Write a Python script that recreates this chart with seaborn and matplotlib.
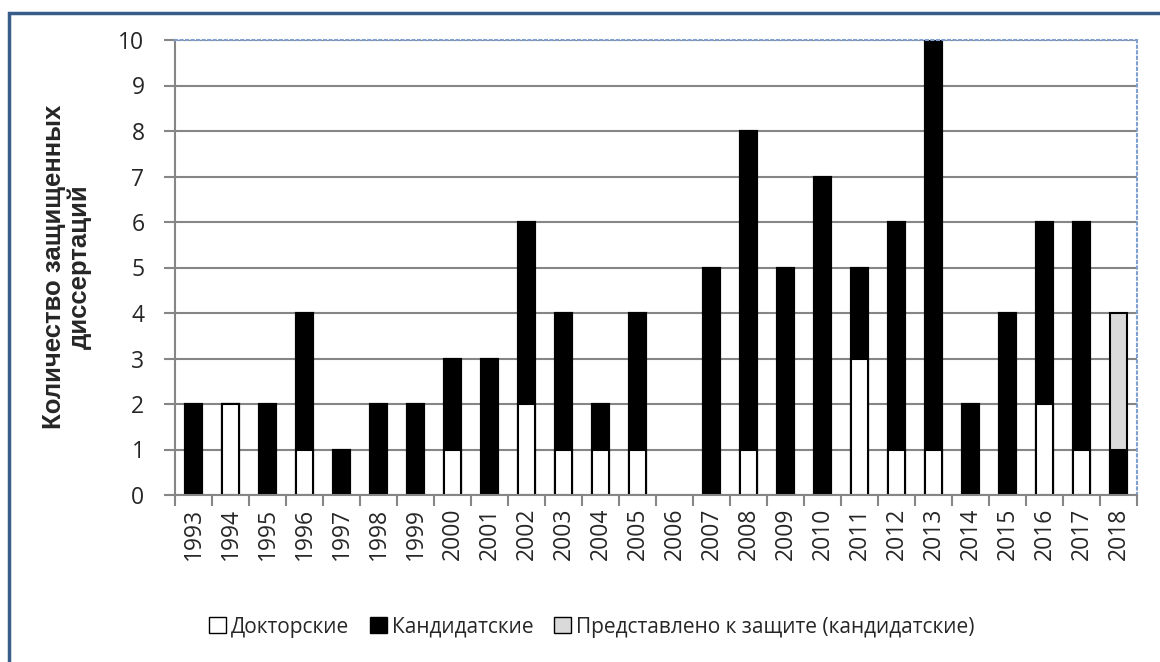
import numpy as np
import pandas as pd
import seaborn as sns
import matplotlib.pyplot as plt
from matplotlib.patches import Patch, Rectangle

#* данные
years = ["1993", "1994", "1995", "1996", "1997", "1998", "1999", "2000", "2001",
         "2002", "2003", "2004", "2005", "2006", "2007", "2008", "2009", "2010",
         "2011", "2012", "2013", "2014", "2015", "2016", "2017", "2018"]
doktorskie = [0, 2, 0, 1, 0, 0, 0, 1, 0, 2, 1, 1, 1, 0, 0, 1, 0, 0, 3, 1, 1, 0, 0, 2, 1, 0]
kandidatskie = [2, 0, 2, 3, 1, 2, 2, 2, 3, 4, 3, 1, 3, 0, 5, 7, 5, 7, 2, 5, 9, 2, 4, 4, 5, 1]
predstavleno = [0, 0, 0, 0, 0, 0, 0, 0, 0, 0, 0, 0, 0, 0, 0, 0, 0, 0, 0, 0, 0, 0, 0, 0, 0, 3]

legend_labels = ["Докторские", "Кандидатские", "Представлено к защите (кандидатские)"]

df = pd.DataFrame({"year": years, "d": doktorskie, "k": kandidatskie, "p": predstavleno})
df["dk"] = df["d"] + df["k"]
df["total"] = df["dk"] + df["p"]

sns.set_theme(style="white")
plt.rcParams['font.family'] = ['Open Sans', 'DejaVu Sans']

fig = plt.figure(figsize=(11.6, 6.62), dpi=100)
ax = fig.add_axes([175 / 1160, 1 - 495 / 662, (1137 - 175) / 1160, (495 - 40) / 662])

# empilement : on dessine du total vers le bas
bar_kw = dict(x="year", order=years, edgecolor="black", linewidth=1.5,
              width=0.47, saturation=1, ax=ax, errorbar=None)
sns.barplot(data=df, y="total", color="#dadada", **bar_kw)
sns.barplot(data=df, y="dk", color="black", **bar_kw)
sns.barplot(data=df, y="d", color="white", **bar_kw)

# barres de hauteur nulle -> invisibles
for p in ax.patches:
    if p.get_height() == 0:
        p.set_visible(False)

ax.set_xlim(-0.5, len(years) - 0.5)
ax.set_ylim(0, 10)
ax.set_yticks(range(0, 11))
ax.set_xlabel("")
ax.set_ylabel("")

ax.yaxis.grid(True, color="#868686", linewidth=1.5)
ax.set_axisbelow(True)

ax.set_xticks(range(len(years)))
ax.set_xticklabels(years, rotation=90)
ax.set_xticks(np.arange(-0.5, len(years)), minor=True)
ax.tick_params(axis="x", which="major", length=0, labelsize=16.5, pad=9)
ax.tick_params(axis="x", which="minor", length=8, width=1.5, color="#868686", bottom=True)
ax.tick_params(axis="y", length=8, width=1.5, color="#868686", labelsize=16.5, left=True, pad=14)

for s in ["left", "bottom"]:
    ax.spines[s].set_color("#868686")
    ax.spines[s].set_linewidth(1.5)
for s in ["top", "right"]:
    ax.spines[s].set_color("#7f9fd0")
    ax.spines[s].set_linewidth(1.5)
    ax.spines[s].set_linestyle(":")

fig.text(67 / 1160, 1 - 267 / 662, "Количество защищенных\nдиссертаций",
         rotation=90, ha="center", va="center", multialignment="center",
         fontsize=18.5, fontweight="bold", family=["Liberation Sans", "DejaVu Sans"],
         linespacing=1.1)

handles = [Patch(facecolor="white", edgecolor="black"),
           Patch(facecolor="black", edgecolor="black"),
           Patch(facecolor="#dadada", edgecolor="black")]
fig.legend(handles, legend_labels, loc="center", bbox_to_anchor=(592 / 1160, 1 - 627 / 662),
           ncol=3, frameon=False, fontsize=15, handlelength=0.8, handleheight=0.8,
           handletextpad=0.25, columnspacing=1.0)

# cadre extérieur
fig.patches.append(Rectangle((9 / 1160, -0.2), 1.5, 1 - 13 / 662 + 0.2,
                             transform=fig.transFigure, fill=False,
                             edgecolor="#385d8a", linewidth=2.5))

fig.savefig("out.png", dpi=100)
